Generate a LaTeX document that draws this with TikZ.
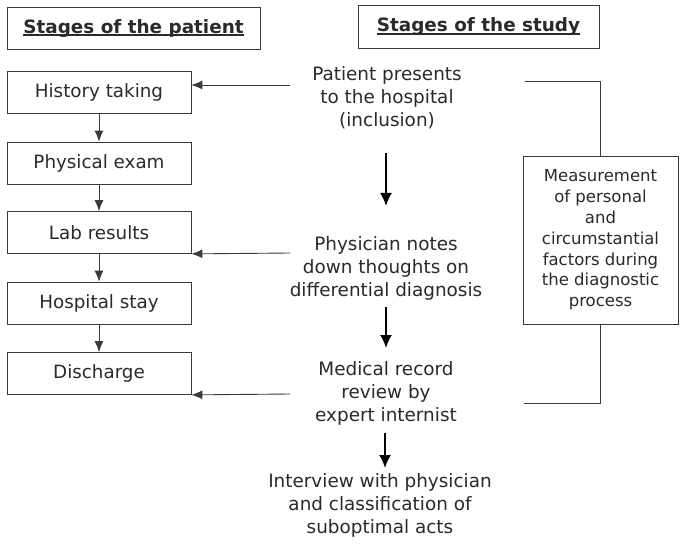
\documentclass[tikz,border=0pt]{standalone}
\usepackage{fontspec}
\setmainfont{DejaVu Sans}
\usetikzlibrary{arrows.meta}
\definecolor{ink}{HTML}{2A2A2A}
\definecolor{linec}{HTML}{3A3A3A}
\newcommand\myul[1]{\setbox0\hbox{#1}\rlap{\rule[-3pt]{\wd0}{1.8pt}}\box0}
\begin{document}
\begin{tikzpicture}[x=1pt,y=-1pt,
  every node/.style={text=ink},
  titlebox/.style={draw=linec, line width=0.9pt, inner sep=0pt, font=\fontsize{18.4}{20}\selectfont\bfseries},
  stagebox/.style={draw=linec, line width=0.8pt, minimum width=184pt, minimum height=42pt, inner sep=0pt, font=\fontsize{18.3}{20}\selectfont},
  studytext/.style={align=center, inner sep=0pt, font=\fontsize{18.4}{23}\selectfont},
  measbox/.style={draw=linec, line width=0.8pt, minimum width=155pt, minimum height=168pt, inner sep=0pt, align=center, font=\fontsize{16.5}{20.8}\selectfont},
  conn/.style={draw=linec, line width=0.9pt},
  arr/.style={conn, -{Latex[length=11pt,width=9pt]}},
  bigarr/.style={draw=black, line width=1.8pt, -{Latex[length=13pt,width=12pt]}}
]
\useasboundingbox (0,0) rectangle (685,545);
\fill[white] (0,0) rectangle (685,545);

% titles
\node[titlebox, minimum width=253pt, minimum height=42pt] (tp) at (133.5,28) {\myul{Stages of the patient}};
\node[titlebox, minimum width=241pt, minimum height=43pt] (ts) at (478.5,26.5) {\myul{Stages of the study}};

% patient stages
\node[stagebox] (hist) at (99,92) {History taking};
\node[stagebox] (phys) at (99,163) {Physical exam};
\node[stagebox] (lab)  at (99,232.5) {Lab results};
\node[stagebox] (hosp) at (99,303) {Hospital stay};
\node[stagebox] (dis)  at (99,373.5) {Discharge};

\draw[arr] (hist) -- (phys);
\draw[arr] (phys) -- (lab);
\draw[arr] (lab) -- (hosp);
\draw[arr] (hosp) -- (dis);

% study stages
\node[studytext] (pat) at (387,98) {Patient presents\\to the hospital\\(inclusion)};
\node[studytext] (phn) at (386,268) {Physician notes\\down thoughts on\\differential diagnosis};
\node[studytext] (med) at (386,393) {Medical record\\review by\\expert internist};
\node[studytext] (int) at (380,505) {Interview with physician\\and classification of\\suboptimal acts};

\coordinate (m0) at (386,153);
\coordinate (m0b) at (386,206);
\draw[bigarr] (m0) -- (m0b);
\coordinate (m1) at (386,307);
\coordinate (m2) at (386,348);
\draw[bigarr] (m1) -- (m2);
\coordinate (m3) at (385,433);
\coordinate (m4) at (385,468);
\draw[bigarr] (m3) -- (m4);

% horizontal arrows to patient stages
\coordinate (h1) at (290,85);
\coordinate (h2) at (290,253);
\coordinate (h3) at (290,394);
\draw[arr] (h1) -- (hist.east |- h1);
\draw[arr] (h2) -- (lab.south east);
\draw[arr] (h3) -- (dis.south east);

% measurement box and bracket
\node[measbox] (meas) at (600.5,240) {Measurement\\of personal\\and\\circumstantial\\factors during\\the diagnostic\\process};
\coordinate (bt) at (525,81);
\coordinate (bb) at (524,403);
\draw[conn] (bt) -| (meas.north);
\draw[conn] (meas.south) |- (bb);
\end{tikzpicture}
\end{document}
